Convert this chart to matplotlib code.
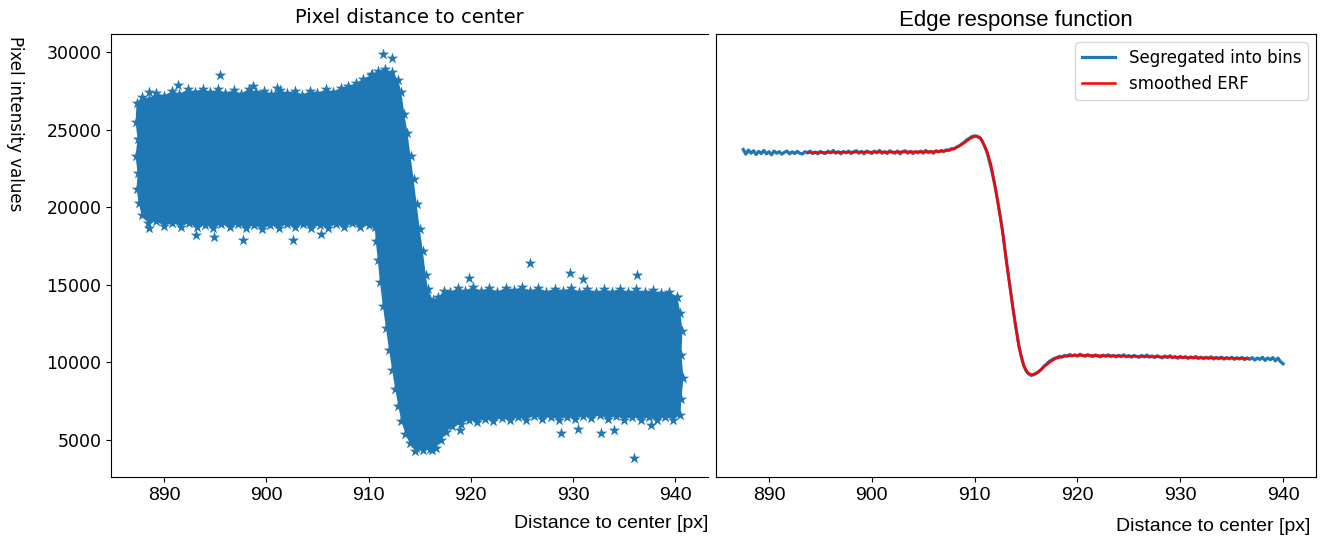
import matplotlib
matplotlib.use("Agg")
import matplotlib.pyplot as plt

# ---------------- data ----------------
# Outline of the dense scatter cloud (left panel), clockwise
cloud_x = [887.3, 887.8, 888.5, 889.2, 890.0, 890.8, 891.5, 892.3, 893.0, 893.8,
           894.5, 895.3, 896.0, 896.8, 897.5, 898.3, 899.0, 899.8, 900.5, 901.3,
           902.0, 902.8, 903.5, 904.3, 905.0, 905.8, 906.5, 907.3, 908.0, 908.8,
           909.5, 910.2, 910.9, 911.6, 912.3, 912.9, 913.2, 913.5, 913.8, 914.1,
           914.4, 914.7, 915.0, 915.3, 915.6, 915.8, 916.3, 916.8, 917.4, 918.0,
           918.7, 919.4, 920.2, 921.0, 921.8, 922.6, 923.4, 924.2, 925.0, 925.8,
           926.6, 927.4, 928.2, 929.0, 929.8, 930.6, 931.4, 932.2, 933.0, 933.8,
           934.6, 935.4, 936.2, 937.0, 937.8, 938.6, 939.4, 940.2, 940.5, 940.7,
           940.6, 940.8, 940.6, 940.5, 939.8, 939.0, 938.2, 937.4, 936.6, 935.8,
           935.0, 934.2, 933.4, 932.6, 931.8, 931.0, 930.2, 929.4, 928.6, 927.8,
           927.0, 926.2, 925.4, 924.6, 923.8, 923.0, 922.2, 921.4, 920.6, 919.8,
           919.0, 918.2, 917.6, 917.1, 916.6, 916.0, 915.3, 914.6, 914.0, 913.6,
           913.2, 912.9, 912.6, 912.3, 912.0, 911.7, 911.4, 911.1, 910.9, 910.7,
           910.6, 910.0, 909.2, 908.4, 907.6, 906.8, 906.0, 905.2, 904.4, 903.6,
           902.8, 902.0, 901.2, 900.4, 899.6, 898.8, 898.0, 897.2, 896.4, 895.6,
           894.8, 894.0, 893.2, 892.4, 891.6, 890.8, 890.0, 889.2, 888.4, 887.8,
           887.5, 887.3, 887.4, 887.2, 887.4, 887.2]
cloud_y = [26700, 27100, 27000, 27350, 27200, 27500, 27300, 27600, 27450, 27650,
           27400, 27600, 27350, 27550, 27300, 27650, 27400, 27500, 27300, 27550,
           27350, 27500, 27250, 27500, 27350, 27600, 27450, 27700, 27800, 28000,
           28300, 28500, 28800, 28900, 28700, 28200, 27400, 26000, 24800, 23300,
           21800, 20200, 18600, 17200, 15600, 14700, 14000, 14200, 14600, 14500,
           14800, 14600, 14850, 14600, 14800, 14550, 14800, 14650, 14850, 14600,
           14800, 14550, 14750, 14600, 14800, 14550, 14750, 14500, 14700, 14550,
           14750, 14500, 14700, 14500, 14650, 14450, 14550, 14200, 13200, 12000,
           10500, 9000, 7600, 6600, 6300, 6500, 6250, 6450, 6300, 6500,
           6300, 6550, 6350, 6600, 6400, 6550, 6350, 6500, 6300, 6500,
           6350, 6550, 6300, 6450, 6250, 6400, 6200, 6350, 6150, 6300,
           6000, 5900, 5500, 5000, 4500, 4400, 4350, 4450, 4800, 5400,
           6200, 7200, 8300, 9500, 10800, 12200, 13600, 15200, 16600, 17800,
           18700, 18850, 18700, 18950, 18700, 18900, 18650, 18850, 18650, 18900,
           18700, 18900, 18650, 18850, 18600, 18850, 18650, 18900, 18700, 18900,
           18650, 18850, 18700, 18950, 18750, 19000, 18800, 19100, 19000, 19500,
           20300, 21200, 22200, 23300, 24400, 25500]

# Individual outlying points (stars) around the cloud
outlier_x = [888.5, 891.4, 895.5, 898.7, 901.0, 910.3, 911.4, 912.3,
             888.5, 893.1, 894.9, 897.7, 902.6, 905.3,
             919.8, 925.8, 929.7, 931.0, 936.3, 940.2,
             918.9, 914.5, 916.2, 928.8, 930.5, 932.7, 934.0, 936.0, 937.6]
outlier_y = [27420, 27870, 28520, 27810, 27680, 28580, 29870, 29610,
             18660, 18210, 18080, 17890, 17890, 18270,
             15440, 16400, 15760, 15370, 15630, 14220,
             5640, 4300, 4350, 5450, 5700, 5450, 5600, 3840, 5970]

# Edge response function: binned values
bin_x = [887.50, 887.75, 888.00, 888.25, 888.50, 888.75, 889.00, 889.25, 889.50, 889.75,
         890.00, 890.25, 890.50, 890.75, 891.00, 891.25, 891.50, 891.75, 892.00, 892.25,
         892.50, 892.75, 893.00, 893.25, 893.50, 893.75, 894.00, 894.25, 894.50, 894.75,
         895.00, 895.25, 895.50, 895.75, 896.00, 896.25, 896.50, 896.75, 897.00, 897.25,
         897.50, 897.75, 898.00, 898.25, 898.50, 898.75, 899.00, 899.25, 899.50, 899.75,
         900.00, 900.25, 900.50, 900.75, 901.00, 901.25, 901.50, 901.75, 902.00, 902.25,
         902.50, 902.75, 903.00, 903.25, 903.50, 903.75, 904.00, 904.25, 904.50, 904.75,
         905.00, 905.25, 905.50, 905.75, 906.00, 906.25, 906.50, 906.75, 907.00,
         907.25, 907.50, 907.75, 908.00, 908.25, 908.50, 908.75, 909.00, 909.25, 909.50,
         909.75, 910.00, 910.25, 910.50, 910.75, 911.00, 911.25, 911.50, 911.75, 912.00,
         912.25, 912.50, 912.75, 913.00, 913.25, 913.50, 913.75, 914.00, 914.25, 914.50,
         914.75, 915.00, 915.25, 915.50, 915.75, 916.00, 916.25, 916.50, 916.75, 917.00,
         917.25, 917.50, 917.75, 918.00,
         918.25, 918.50, 918.75, 919.00, 919.25, 919.50, 919.75, 920.00, 920.25, 920.50,
         920.75, 921.00, 921.25, 921.50, 921.75, 922.00, 922.25, 922.50, 922.75, 923.00,
         923.25, 923.50, 923.75, 924.00, 924.25, 924.50, 924.75, 925.00, 925.25, 925.50,
         925.75, 926.00, 926.25, 926.50, 926.75, 927.00, 927.25, 927.50, 927.75, 928.00,
         928.25, 928.50, 928.75, 929.00, 929.25, 929.50, 929.75, 930.00, 930.25, 930.50,
         930.75, 931.00, 931.25, 931.50, 931.75, 932.00, 932.25, 932.50, 932.75, 933.00,
         933.25, 933.50, 933.75, 934.00, 934.25, 934.50, 934.75, 935.00, 935.25, 935.50,
         935.75, 936.00, 936.25, 936.50, 936.75, 937.00, 937.25, 937.50, 937.75, 938.00,
         938.25, 938.50, 938.75, 939.00, 939.25, 939.50, 939.75, 940.00]
bin_y = [23720, 23420, 23680, 23480, 23640, 23400, 23600, 23460, 23660, 23440,
         23580, 23380, 23620, 23480, 23580, 23420, 23540, 23620, 23440, 23570,
         23460, 23600, 23480, 23430, 23580, 23500, 23620, 23460, 23560, 23440,
         23600, 23500, 23460, 23620, 23500, 23660, 23480, 23580, 23440, 23600,
         23500, 23620, 23460, 23580, 23640, 23480, 23600, 23440, 23620, 23540,
         23460, 23620, 23500, 23660, 23480, 23580, 23460, 23640, 23540, 23480,
         23620, 23440, 23580, 23640, 23480, 23600, 23460, 23580, 23500, 23620,
         23480, 23660, 23520, 23600, 23480, 23640, 23560, 23660, 23580,
         23700, 23660, 23780, 23760, 23880, 23950, 24080, 24200, 24350, 24450,
         24560, 24600, 24580, 24480, 24250, 23900, 23450, 22800, 22100, 21300,
         20400, 19400, 18300, 17000, 15800, 14550, 13400, 12300, 11300, 10450,
         9850, 9450, 9250, 9150, 9200, 9280, 9400, 9550, 9750, 9880,
         10050, 10150, 10250, 10300,
         10380, 10330, 10440, 10390, 10500, 10410, 10480, 10390, 10520, 10430,
         10390, 10490, 10410, 10370, 10470, 10390, 10350, 10460, 10380, 10480,
         10370, 10440, 10340, 10450, 10370, 10480, 10350, 10430, 10330, 10440,
         10370, 10320, 10440, 10350, 10470, 10330, 10410, 10300, 10420, 10340,
         10280, 10400, 10310, 10420, 10290, 10370, 10260, 10380, 10290, 10360,
         10250, 10340, 10270, 10370, 10240, 10330, 10230, 10320, 10250, 10350,
         10210, 10310, 10230, 10330, 10200, 10300, 10220, 10320, 10190, 10290,
         10210, 10310, 10170, 10280, 10190, 10300, 10140, 10270, 10180, 10320,
         10120, 10280, 10160, 10300, 10090, 10270, 10040, 9900]

# Smoothed ERF
erf_x = [893.8, 896.0, 898.0, 900.0, 902.0, 904.0, 906.0, 907.0, 908.0, 909.0,
         909.6, 910.1, 910.6, 911.2, 911.6, 912.0, 912.4, 912.7, 913.2, 913.7,
         914.3, 914.8, 915.2, 915.6, 916.0, 916.5, 917.0, 917.5, 918.0, 918.8,
         920.0, 922.0, 924.0, 926.0, 928.0, 930.0, 932.0, 934.0, 936.6]
erf_y = [23520, 23540, 23550, 23560, 23560, 23570, 23580, 23620, 23760, 24150,
         24450, 24580, 24450, 23600, 22700, 21320, 19700, 18530, 15950, 13590,
         11010, 9720, 9300, 9190, 9300, 9550, 9850, 10100, 10280, 10400,
         10450, 10430, 10400, 10380, 10350, 10320, 10290, 10270, 10250]

# ---------------- figure ----------------
W, H = 1323, 541
fig = plt.figure(figsize=(W / 100, H / 100), dpi=100)

def frac(x0, y0, x1, y1):
    return [x0 / W, 1 - y1 / H, (x1 - x0) / W, (y1 - y0) / H]

ax1 = fig.add_axes(frac(111, 34, 708, 477))
ax2 = fig.add_axes(frac(716, 34, 1316, 477), sharey=ax1)

blue = "#1f77b4"
ax1.fill(cloud_x, cloud_y, color=blue, lw=0)
ax1.scatter(cloud_x, cloud_y, marker="*", s=75, color=blue, lw=0)
ax1.scatter(outlier_x, outlier_y, marker="*", s=75, color=blue, lw=0)
ax1.spines["right"].set_visible(False)

ax2.plot(bin_x, bin_y, color=blue, lw=2.3, label="Segregated into bins")
ax2.plot(erf_x, erf_y, color="red", lw=1.8, label="smoothed ERF")

ax1.set_xlim(884.8, 943.2)
ax2.set_xlim(884.85, 943.2)
ax1.set_ylim(2600, 31170)
ax1.set_yticks([5000, 10000, 15000, 20000, 25000, 30000])
for ax in (ax1, ax2):
    ax.set_xticks([890, 900, 910, 920, 930, 940])
    for lab in ax.get_xticklabels():
        lab.set_fontfamily("Liberation Sans")
        lab.set_fontsize(14)
for lab in ax1.get_yticklabels():
    lab.set_fontfamily("DejaVu Sans")
    lab.set_fontsize(12.5)
ax2.tick_params(axis="y", left=False, labelleft=False)

ax1.set_title("Pixel distance to center", fontsize=14, family="DejaVu Sans", pad=8)
ax2.set_title("Edge response function", fontsize=16, family="Liberation Sans", pad=6)

ax1.set_xlabel("Distance to center [px]", fontsize=14, family="Liberation Sans")
ax1.xaxis.label.set_horizontalalignment("right")
ax1.xaxis.set_label_coords(1.0, -0.086)
ax2.set_xlabel("Distance to center [px]", fontsize=14, family="Liberation Sans")
ax2.xaxis.label.set_horizontalalignment("right")
ax2.xaxis.set_label_coords(0.99, -0.093)
fig.text(15 / W, 1 - 36 / H, "Pixel intensity values", rotation=270,
         ha="center", va="top", fontsize=12, family="DejaVu Sans")

ax2.legend(loc="upper right", prop={"family": "DejaVu Sans", "size": 12})

fig.savefig("out.png", dpi=100)
